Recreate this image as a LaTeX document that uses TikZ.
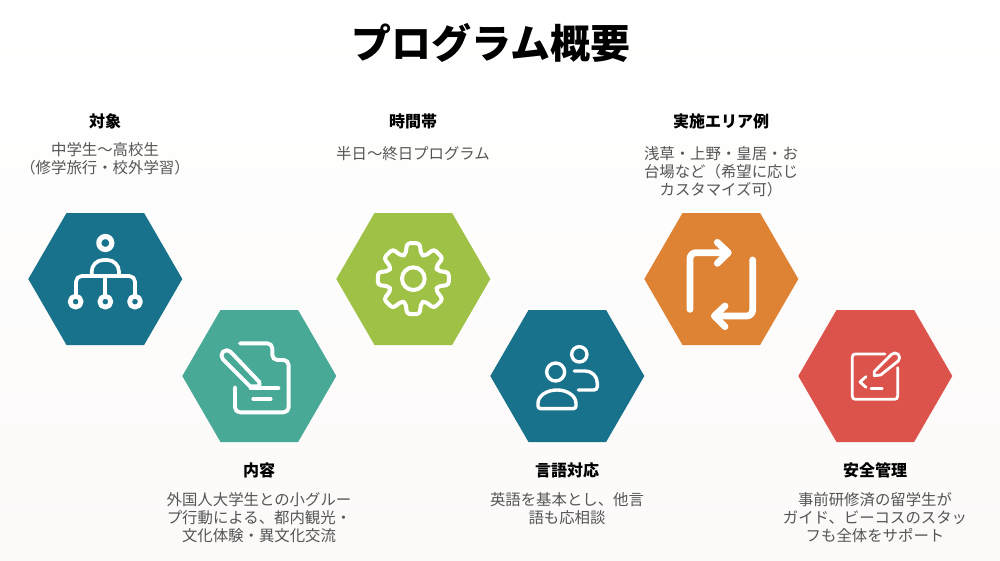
\documentclass[tikz,border=0pt]{standalone}
\usepackage{fontspec}
\setmainfont{Noto Sans CJK JP}
\XeTeXlinebreaklocale "ja"
\definecolor{cteal}{HTML}{19728C}
\definecolor{cgreen}{HTML}{47A996}
\definecolor{clime}{HTML}{9FC246}
\definecolor{corange}{HTML}{DE8233}
\definecolor{cred}{HTML}{DC534C}
\definecolor{bgend}{HTML}{FCFAF9}
\definecolor{bodytext}{HTML}{555555}
\tikzset{
  hexa/.style={fill=#1,draw=none},
  ttl/.style={font=\fontsize{40}{46}\selectfont\bfseries,inner sep=0pt,text=black},
  head/.style={font=\fontsize{16}{18}\selectfont\bfseries,inner sep=0pt,text=black},
  body/.style={font=\fontsize{15.4}{18}\selectfont,inner sep=0pt,align=center,text=bodytext,anchor=north},
  ico/.style={draw=white,line width=#1,line cap=round,line join=round,fill=none},
  zoomA/.style={shift={(20,200)},x=0.3333pt,y=-0.3333pt},
  zoomB/.style={shift={(330,200)},x=0.3333pt,y=-0.3333pt},
  zoomC/.style={shift={(640,200)},x=0.3333pt,y=-0.3333pt},
}
\newcommand{\hexat}[3]{\path[hexa=#3] (#1-77,#2) -- (#1-38.8,#2-66) -- (#1+38.8,#2-66) -- (#1+77,#2) -- (#1+38.8,#2+66) -- (#1-38.8,#2+66) -- cycle;}
\begin{document}
\begin{tikzpicture}[x=1pt,y=-1pt]
\useasboundingbox (0,0) rectangle (1000,560);
\shade[top color=white,bottom color=bgend] (0,0) rectangle (1000,560);
\hexat{105.3}{279}{cteal}
\hexat{259.3}{376}{cgreen}
\hexat{413.3}{279}{clime}
\hexat{567.3}{376}{cteal}
\hexat{721.3}{279}{corange}
\hexat{875.3}{376}{cred}
\node[ttl] (title) at (491,43) {プログラム概要};
\node[head] (h1) at (105,121) {対象};
\node[head] (h2) at (259,470) {内容};
\node[head] (h3) at (413,121) {時間帯};
\node[head] (h4) at (567,470) {言語対応};
\node[head] (h5) at (721,121) {実施エリア例};
\node[head] (h6) at (875,470) {安全管理};
\node[body] (b1) at (105,142.5) {中学生〜高校生\\（修学旅行・校外学習）};
\node[body] (b2) at (259,492) {外国人大学生との小グルー\\プ行動による、都内観光・\\文化体験・異文化交流};
\node[body] (b3) at (413,146) {半日〜終日プログラム};
\node[body] (b4) at (567,492) {英語を基本とし、他言\\語も応相談};
\node[body] (b5) at (721,146) {浅草・上野・皇居・お\\台場など（希望に応じ\\カスタマイズ可）};
\node[body] (b6) at (875,492) {事前研修済の留学生が\\ガイド、ビーコスのスタッ\\フも全体をサポート};
% icon 1
\begin{scope}[zoomA]
\draw[ico=5.2pt] (256,129) circle (19.5);
\foreach \cx in {167,256,345} \draw[ico=4.8pt] (\cx,305) circle (16.5);
\draw[ico=3.7pt] (168,285) -- (168,245) arc[start angle=-180,end angle=-90,radius=17] -- (328,228) arc[start angle=-90,end angle=0,radius=17] -- (345,285);
\draw[ico=3.7pt] (256,228) -- (256,285);
\draw[ico=3.7pt] (215,226) -- (215,215) arc[start angle=-180,end angle=-90,radius=35] -- (262,180) arc[start angle=-90,end angle=0,radius=35] -- (297,226);
% icon 2
\draw[ico=3.9pt,rounded corners=5pt] (660,430) -- (757,430) -- (757,480) -- (806,480) -- (806,637) -- (645,637) -- (645,562);
\draw[ico=3.9pt] (692,565) -- (775,565);
\draw[ico=3.9pt] (700,597) -- (752,597);
\draw[ico=3.9pt] (609,478) arc[start angle=-225,end angle=-45,radius=16] -- (718,546) -- (718,559) -- (690,559) -- cycle;
\end{scope}
% icon 3, 4
\begin{scope}[zoomB]
\draw[ico=4pt] (250,236) circle (34);
\draw[ico=4pt,rounded corners=3pt] (250,236)+(-18:76) \foreach \t in {0,45,...,315} { -- +(\t-18:76) -- +(\t-10:108) -- +(\t+10:108) -- +(\t+18:76) } -- cycle;
\draw[ico=3.4pt] (677,516) circle (27);
\draw[ico=3.4pt] (748,463) circle (23);
\draw[ico=3.4pt] (624,618) -- (624,610) arc[start angle=-180,end angle=0,x radius=57,y radius=40] -- (738,618) arc[start angle=0,end angle=90,radius=8] -- (632,626) arc[start angle=90,end angle=180,radius=8] -- cycle;
\draw[ico=3.4pt] (733,513) -- (766,513) arc[start angle=-90,end angle=0,radius=36] -- (802,560) arc[start angle=0,end angle=90,radius=10] -- (745,570);
\end{scope}
% icon 5, 6
\begin{scope}[zoomC]
\draw[ico=6.8pt,rounded corners=6pt] (150,328) -- (150,158) -- (262,158);
\draw[ico=6.8pt] (232,127) -- (265,158) -- (232,190);
\draw[ico=6.8pt,rounded corners=6pt] (338,180) -- (338,348) -- (225,348);
\draw[ico=6.8pt] (255,318) -- (223,348) -- (255,380);
\draw[ico=2.8pt,rounded corners=3pt] (735,462) -- (637,462) -- (637,598) -- (773,598) -- (773,503);
\draw[ico=2.8pt] (703,515) -- (755,463) arc[start angle=-135,end angle=45,radius=14] -- (722,525) -- (703,527) -- cycle;
\draw[ico=2.8pt] (678,530) -- (660,546) -- (678,562);
\draw[ico=2.8pt] (693,565) -- (727,565);
\end{scope}
\end{tikzpicture}
\end{document}
